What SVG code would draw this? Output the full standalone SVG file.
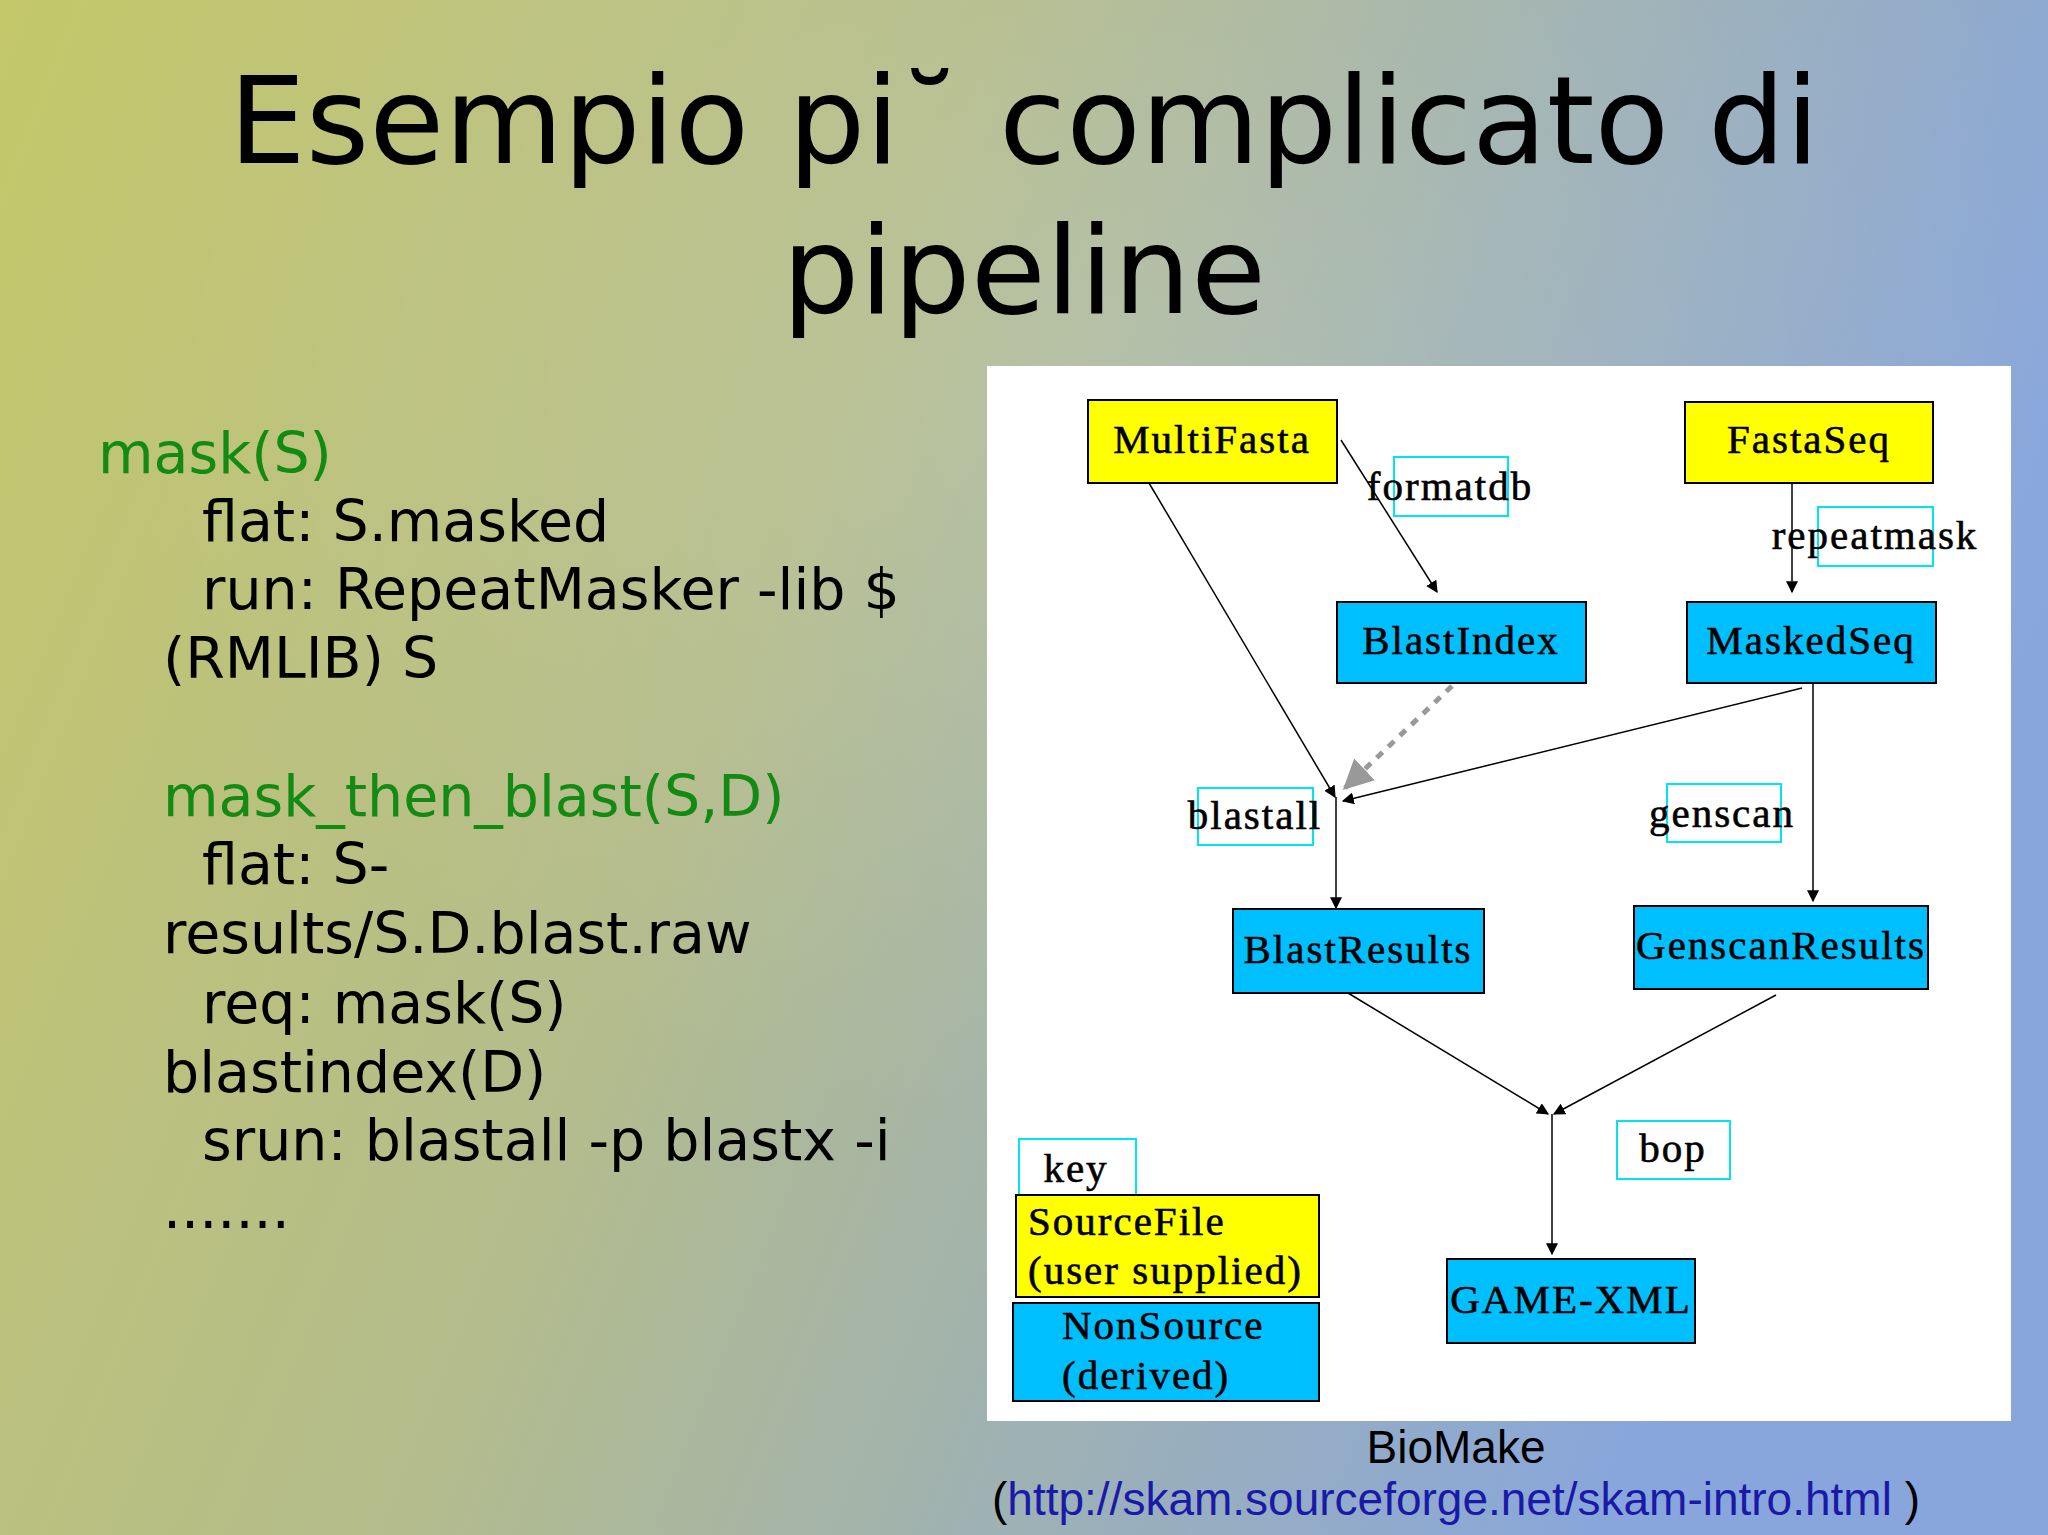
<svg xmlns="http://www.w3.org/2000/svg" width="2048" height="1535" viewBox="0 0 2048 1535">
<defs>
<linearGradient id="bg" x1="0" y1="0" x2="1" y2="0.3">
<stop offset="0" stop-color="#c4c86a"/><stop offset="0.45" stop-color="#b4bc8c"/><stop offset="1" stop-color="#88a6dc"/>
</linearGradient>
<radialGradient id="glow" cx="0.55" cy="0.25" r="0.5">
<stop offset="0" stop-color="#ffffff" stop-opacity="0.12"/><stop offset="1" stop-color="#ffffff" stop-opacity="0"/>
</radialGradient>
<marker id="a" viewBox="0 0 10 10" refX="9" refY="5" markerWidth="12" markerHeight="12" markerUnits="userSpaceOnUse" orient="auto"><path d="M0,0L10,5L0,10z" fill="#000"/></marker>
<marker id="g" viewBox="0 0 10 10" refX="9" refY="5" markerWidth="30" markerHeight="30" markerUnits="userSpaceOnUse" orient="auto"><path d="M0,0L10,5L0,10z" fill="#999"/></marker>
</defs>
<style>
.t{font-family:"Liberation Sans",Arial,sans-serif}
.s{font-family:"Liberation Serif","Times New Roman",serif;font-size:41px;letter-spacing:2px;fill:#000;stroke:#000;stroke-width:0.6}
.y{fill:#ffff00;stroke:#000;stroke-width:2}
.b{fill:#00bfff;stroke:#000;stroke-width:2}
.c{fill:none;stroke:#00e5ee;stroke-width:2}
.e{stroke:#000;stroke-width:1.5;fill:none;marker-end:url(#a)}
.l{font-family:"DejaVu Sans","Liberation Sans",sans-serif;font-size:57px;fill:#000}
.gr{fill:#138a13}
</style>
<rect width="2048" height="1535" fill="url(#bg)"/>
<rect width="2048" height="1535" fill="url(#glow)"/>
<g font-family="DejaVu Sans,sans-serif" font-size="122" text-anchor="middle" fill="#000">
<text x="1024" y="163">Esempio pi˘ complicato di</text>
<text x="1024" y="313">pipeline</text>
</g>
<g class="l">
<text x="98" y="473" class="gr">mask(S)</text>
<text x="202" y="541">flat: S.masked</text>
<text x="202" y="609">run: RepeatMasker -lib $</text>
<text x="163" y="678">(RMLIB) S</text>
<text x="163" y="816" class="gr">mask_then_blast(S,D)</text>
<text x="202" y="884">flat: S-</text>
<text x="163" y="953">results/S.D.blast.raw</text>
<text x="202" y="1023">req:  mask(S)</text>
<text x="163" y="1092">blastindex(D)</text>
<text x="202" y="1160">srun: blastall -p blastx -i</text>
<text x="163" y="1228">.......</text>
</g>
<rect x="987" y="366" width="1024" height="1055" fill="#fff"/>
<g id="connectors">
<line class="e" x1="1149" y1="483" x2="1335" y2="797"/>
<line class="e" x1="1341" y1="440" x2="1437" y2="592"/>
<line class="e" x1="1792" y1="483" x2="1792" y2="592"/>
<line x1="1452" y1="686" x2="1345" y2="788" stroke="#999" stroke-width="5" stroke-dasharray="8,8" marker-end="url(#g)"/>
<line class="e" x1="1802" y1="688" x2="1343" y2="801"/>
<line class="e" x1="1336" y1="797" x2="1336" y2="908"/>
<line class="e" x1="1813" y1="683" x2="1813" y2="901"/>
<line class="e" x1="1348" y1="993" x2="1548" y2="1114"/>
<line class="e" x1="1776" y1="995" x2="1554" y2="1114"/>
<line class="e" x1="1552" y1="1114" x2="1552" y2="1254"/>
</g>
<g class="s" text-anchor="middle">
<g id="MultiFasta"><rect class="y" x="1088" y="400" width="249" height="83"/><text x="1212" y="453">MultiFasta</text></g>
<g id="FastaSeq"><rect class="y" x="1685" y="402" width="248" height="81"/><text x="1809" y="453">FastaSeq</text></g>
<g id="BlastIndex"><rect class="b" x="1337" y="602" width="249" height="81"/><text x="1461" y="654">BlastIndex</text></g>
<g id="MaskedSeq"><rect class="b" x="1687" y="602" width="249" height="81"/><text x="1811" y="654">MaskedSeq</text></g>
<g id="BlastResults"><rect class="b" x="1233" y="909" width="251" height="84"/><text x="1358" y="963">BlastResults</text></g>
<g id="GenscanResults"><rect class="b" x="1634" y="906" width="294" height="83"/><text x="1781" y="959">GenscanResults</text></g>
<g id="GAME-XML"><rect class="b" x="1447" y="1259" width="248" height="84"/><text x="1571" y="1313">GAME-XML</text></g>
<g id="formatdb"><rect class="c" x="1394" y="457" width="114" height="59"/><text x="1450" y="500">formatdb</text></g>
<g id="repeatmask"><rect class="c" x="1818" y="507" width="115" height="59"/><text x="1875" y="549">repeatmask</text></g>
<g id="blastall"><rect class="c" x="1198" y="788" width="115" height="57"/><text x="1255" y="829">blastall</text></g>
<g id="genscan"><rect class="c" x="1667" y="784" width="114" height="58"/><text x="1722" y="827">genscan</text></g>
<g id="bop"><rect class="c" x="1617" y="1121" width="113" height="58"/><text x="1673" y="1162">bop</text></g>
<g id="key"><rect class="c" x="1019" y="1139" width="117" height="57"/><text x="1076" y="1182">key</text></g>
<g id="SourceFile" text-anchor="start"><rect class="y" x="1016" y="1195" width="303" height="102"/><text x="1028" y="1235">SourceFile</text><text x="1028" y="1284">(user supplied)</text></g>
<g id="NonSource" text-anchor="start"><rect class="b" x="1013" y="1303" width="306" height="98"/><text x="1062" y="1339">NonSource</text><text x="1062" y="1389">(derived)</text></g>
</g>
<g class="t" font-size="46" text-anchor="middle" fill="#000">
<text x="1456" y="1463">BioMake</text>
<text x="1456" y="1515">(<tspan fill="#1a1aa8">http://skam.sourceforge.net/skam-intro.html</tspan> )</text>
</g>
</svg>
